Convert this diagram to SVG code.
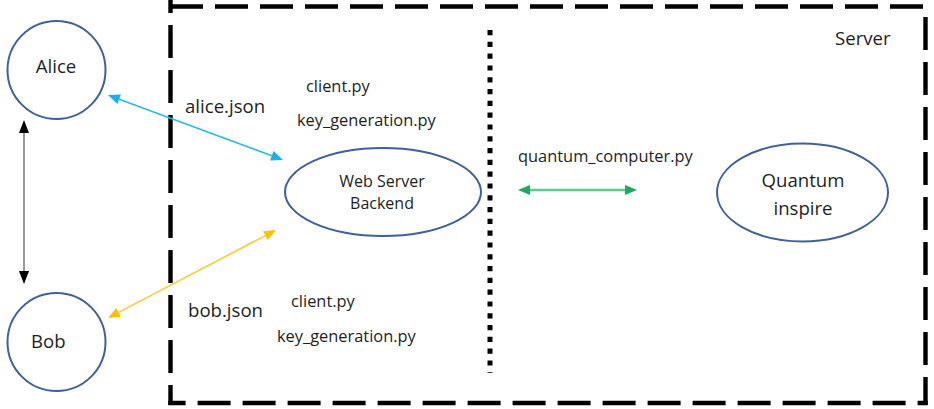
<svg xmlns="http://www.w3.org/2000/svg" width="934" height="409" viewBox="0 0 934 409">
  <style>
    .node { fill: #ffffff; stroke: #41609a; stroke-width: 2; }
    .big { font-family: "Open Sans", "Noto Sans", "DejaVu Sans", sans-serif; font-size: 18.6px; fill: #1e1e1e; }
    .small { font-family: "Open Sans", "Noto Sans", "DejaVu Sans", sans-serif; font-size: 16.4px; fill: #1e1e1e; }
    .inner { font-family: "Open Sans", "Noto Sans", "DejaVu Sans", sans-serif; font-size: 16px; fill: #1e1e1e; }
    .box { fill: none; stroke: #000000; stroke-width: 4.4; stroke-dasharray: 33 12; }
    .dots { fill: none; stroke: #000000; stroke-width: 5; stroke-dasharray: 5.2 6.6; }
  </style>
  <defs>
    <marker id="hBlue" markerUnits="userSpaceOnUse" markerWidth="14" markerHeight="12" refX="0" refY="5" orient="auto-start-reverse" overflow="visible">
      <path d="M0,0 L12,5 L0,10 z" fill="#1ab0ea"/>
    </marker>
    <marker id="hYellow" markerUnits="userSpaceOnUse" markerWidth="14" markerHeight="12" refX="0" refY="5" orient="auto-start-reverse" overflow="visible">
      <path d="M0,0 L12,5 L0,10 z" fill="#ffc000"/>
    </marker>
    <marker id="hGreen" markerUnits="userSpaceOnUse" markerWidth="14" markerHeight="12" refX="0" refY="5" orient="auto-start-reverse" overflow="visible">
      <path d="M0,0 L12,5 L0,10 z" fill="#1aab5e"/>
    </marker>
    <marker id="hBlack" markerUnits="userSpaceOnUse" markerWidth="14" markerHeight="12" refX="0" refY="5" orient="auto-start-reverse" overflow="visible">
      <path d="M0,0 L13,5 L0,10 z" fill="#000000"/>
    </marker>
  </defs>

  <g id="server-boundary">
    <path class="box" d="M168.3 6.5 H926" stroke-dashoffset="-1.7"/>
    <path class="box" d="M170.5 -20 V405"/>
    <path class="box" d="M925.5 17 V405"/>
    <path class="box" d="M168.3 403 H927.7" stroke-dashoffset="15.7"/>
    <text class="big" x="835" y="45">Server</text>
  </g>

  <g id="divider">
    <path class="dots" d="M490 30 V373"/>
  </g>

  <g id="connectors">
    <path d="M24 133 V271" stroke="#808080" stroke-width="1.6" fill="none" marker-start="url(#hBlack)" marker-end="url(#hBlack)"/>
    <path d="M119.2 99.2 L271.8 155.8" stroke="#2cb8ec" stroke-width="1.6" fill="none" marker-start="url(#hBlue)" marker-end="url(#hBlue)"/>
    <path d="M118.6 312.4 L265.4 235.6" stroke="#ffc83a" stroke-width="1.6" fill="none" marker-start="url(#hYellow)" marker-end="url(#hYellow)"/>
    <path d="M530 190 H625" stroke="#5cc98d" stroke-width="2.4" fill="none" marker-start="url(#hGreen)" marker-end="url(#hGreen)"/>
  </g>

  <g id="labels">
    <text class="big" x="185" y="113">alice.json</text>
    <text class="big" x="188" y="317">bob.json</text>
    <text class="small" x="306" y="92">client.py</text>
    <text class="small" x="297" y="126">key_generation.py</text>
    <text class="small" x="291" y="307">client.py</text>
    <text class="small" x="277" y="342">key_generation.py</text>
    <text class="small" x="518" y="162">quantum_computer.py</text>
  </g>

  <g id="alice">
    <circle class="node" cx="56.5" cy="70" r="49"/>
    <text class="big" x="56" y="73" text-anchor="middle">Alice</text>
  </g>

  <g id="bob">
    <circle class="node" cx="56.5" cy="342" r="49"/>
    <text class="big" x="31" y="348">Bob</text>
  </g>

  <g id="web-server-backend">
    <ellipse class="node" cx="383" cy="192" rx="98" ry="44"/>
    <text class="inner" x="382" y="187" text-anchor="middle">Web Server</text>
    <text class="inner" x="382" y="209" text-anchor="middle">Backend</text>
  </g>

  <g id="quantum-inspire">
    <ellipse class="node" cx="802.5" cy="192.5" rx="85.5" ry="49"/>
    <text class="big" x="803" y="187" text-anchor="middle">Quantum</text>
    <text class="big" x="803" y="215" text-anchor="middle">inspire</text>
  </g>
</svg>
